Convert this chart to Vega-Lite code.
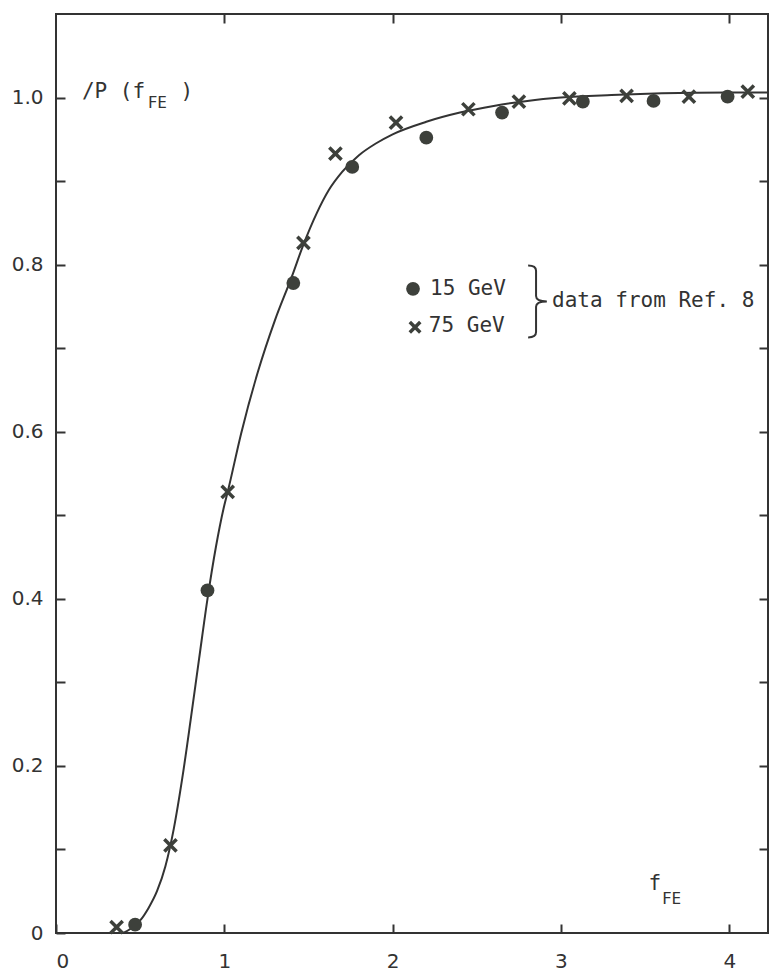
{
  "$schema": "https://vega.github.io/schema/vega-lite/v6.json",
  "width": 712,
  "height": 919,
  "autosize": {"type": "none"},
  "padding": {"left": 56, "top": 14, "right": 6, "bottom": 41},
  "background": "white",
  "config": {
    "view": {"stroke": "#333333", "strokeWidth": 2},
    "axis": {
      "grid": false,
      "domain": false,
      "tickColor": "#333333",
      "tickWidth": 2,
      "tickSize": -9,
      "labelFont": "DejaVu Sans",
      "labelFontSize": 20,
      "labelColor": "#333333",
      "title": null
    }
  },
  "datasets": {
    "curve": [
      {"f": 0.40, "p": 0.000}, {"f": 0.45, "p": 0.006}, {"f": 0.50, "p": 0.015},
      {"f": 0.55, "p": 0.030}, {"f": 0.60, "p": 0.050}, {"f": 0.65, "p": 0.080},
      {"f": 0.70, "p": 0.125}, {"f": 0.75, "p": 0.185}, {"f": 0.80, "p": 0.255},
      {"f": 0.85, "p": 0.328}, {"f": 0.90, "p": 0.400},
      {"f": 0.95, "p": 0.462}, {"f": 1.00, "p": 0.512}, {"f": 1.02, "p": 0.528},
      {"f": 1.10, "p": 0.598}, {"f": 1.20, "p": 0.672}, {"f": 1.30, "p": 0.733},
      {"f": 1.40, "p": 0.785}, {"f": 1.47, "p": 0.824}, {"f": 1.55, "p": 0.862},
      {"f": 1.62, "p": 0.889}, {"f": 1.70, "p": 0.911}, {"f": 1.80, "p": 0.931},
      {"f": 1.90, "p": 0.945}, {"f": 2.00, "p": 0.956}, {"f": 2.20, "p": 0.971},
      {"f": 2.40, "p": 0.982}, {"f": 2.60, "p": 0.990}, {"f": 2.80, "p": 0.996},
      {"f": 3.00, "p": 1.000}, {"f": 3.30, "p": 1.003}, {"f": 3.60, "p": 1.005},
      {"f": 4.00, "p": 1.006}, {"f": 4.23, "p": 1.006}
    ],
    "gev15": [
      {"f": 0.47, "p": 0.010}, {"f": 0.90, "p": 0.410}, {"f": 1.41, "p": 0.778},
      {"f": 1.76, "p": 0.917}, {"f": 2.20, "p": 0.952}, {"f": 2.65, "p": 0.982},
      {"f": 3.13, "p": 0.995}, {"f": 3.55, "p": 0.996}, {"f": 3.99, "p": 1.001}
    ],
    "gev75": [
      {"f": 0.36, "p": 0.007}, {"f": 0.68, "p": 0.105}, {"f": 1.02, "p": 0.528},
      {"f": 1.47, "p": 0.826}, {"f": 1.66, "p": 0.933}, {"f": 2.02, "p": 0.970},
      {"f": 2.45, "p": 0.986}, {"f": 2.75, "p": 0.995}, {"f": 3.05, "p": 0.999},
      {"f": 3.39, "p": 1.002}, {"f": 3.76, "p": 1.001}, {"f": 4.11, "p": 1.007}
    ],
    "legend15": [{"f": 2.121, "p": 0.771}],
    "legend75": [{"f": 2.133, "p": 0.725}],
    "brace": [{"f": 2.852, "p": 0.756}],
    "labels": [
      {"f": 0.154, "p": 1.007, "kind": "main", "t": "/P (f"},
      {"f": 0.545, "p": 0.993, "kind": "sub", "t": "FE"},
      {"f": 0.740, "p": 1.007, "kind": "main", "t": ")"},
      {"f": 3.520, "p": 0.059, "kind": "main", "t": "f"},
      {"f": 3.600, "p": 0.041, "kind": "sub", "t": "FE"},
      {"f": 2.222, "p": 0.771, "kind": "main", "t": "15 GeV"},
      {"f": 2.215, "p": 0.727, "kind": "main", "t": "75 GeV"},
      {"f": 2.947, "p": 0.756, "kind": "main", "t": "data from Ref. 8"}
    ]
  },
  "layer": [
    {
      "data": {"name": "curve"},
      "mark": {"type": "line", "interpolate": "monotone", "color": "#333333", "strokeWidth": 2},
      "encoding": {
        "x": {"field": "f", "type": "quantitative",
              "scale": {"domain": [0, 4.23], "nice": false, "zero": false},
              "axis": {"orient": "bottom", "values": [0, 1, 2, 3, 4], "labelPadding": 27}},
        "y": {"field": "p", "type": "quantitative",
              "scale": {"domain": [0, 1.1], "nice": false, "zero": false},
              "axis": {"orient": "left", "values": [0, 0.1, 0.2, 0.3, 0.4, 0.5, 0.6, 0.7, 0.8, 0.9, 1.0],
                       "labelPadding": 22,
                       "labelExpr": "round(datum.value*10) % 2 == 0 ? (datum.value == 0 ? '0' : format(datum.value, '.1f')) : ''"}}
      }
    },
    {
      "data": {"name": "gev15"},
      "mark": {"type": "point", "shape": "circle", "filled": true, "color": "#3d403b", "opacity": 1, "size": 190},
      "encoding": {
        "x": {"field": "f", "type": "quantitative",
              "axis": {"orient": "top", "values": [1, 2, 3, 4], "labels": false}},
        "y": {"field": "p", "type": "quantitative",
              "axis": {"orient": "right", "values": [0.1, 0.2, 0.3, 0.4, 0.5, 0.6, 0.7, 0.8, 0.9, 1.0], "labels": false}}
      }
    },
    {
      "data": {"name": "gev75"},
      "mark": {"type": "point", "shape": "M-1,-1L1,1M-1,1L1,-1", "filled": false, "color": "#3d403b", "opacity": 1, "strokeWidth": 3.5, "size": 150},
      "encoding": {
        "x": {"field": "f", "type": "quantitative", "axis": null},
        "y": {"field": "p", "type": "quantitative", "axis": null}
      }
    },
    {
      "data": {"name": "legend15"},
      "mark": {"type": "point", "shape": "circle", "filled": true, "color": "#3d403b", "opacity": 1, "size": 190},
      "encoding": {
        "x": {"field": "f", "type": "quantitative", "axis": null},
        "y": {"field": "p", "type": "quantitative", "axis": null}
      }
    },
    {
      "data": {"name": "legend75"},
      "mark": {"type": "point", "shape": "M-1,-1L1,1M-1,1L1,-1", "filled": false, "color": "#3d403b", "opacity": 1, "strokeWidth": 3.5, "size": 110},
      "encoding": {
        "x": {"field": "f", "type": "quantitative", "axis": null},
        "y": {"field": "p", "type": "quantitative", "axis": null}
      }
    },
    {
      "data": {"name": "brace"},
      "mark": {"type": "point", "shape": "M-0.22,-1 Q0,-1 0,-0.85 L0,-0.15 Q0,0 0.3,0 Q0,0 0,0.15 L0,0.85 Q0,1 -0.22,1", "filled": false, "color": "#333333", "opacity": 1, "strokeWidth": 2, "size": 5184},
      "encoding": {
        "x": {"field": "f", "type": "quantitative", "axis": null},
        "y": {"field": "p", "type": "quantitative", "axis": null}
      }
    },
    {
      "data": {"name": "labels"},
      "transform": [{"filter": "datum.kind == 'main'"}],
      "mark": {"type": "text", "font": "DejaVu Sans Mono", "fontSize": 21, "color": "#333333", "align": "left", "baseline": "middle"},
      "encoding": {
        "x": {"field": "f", "type": "quantitative", "axis": null},
        "y": {"field": "p", "type": "quantitative", "axis": null},
        "text": {"field": "t"}
      }
    },
    {
      "data": {"name": "labels"},
      "transform": [{"filter": "datum.kind == 'sub'"}],
      "mark": {"type": "text", "font": "DejaVu Sans Mono", "fontSize": 16, "color": "#333333", "align": "left", "baseline": "middle"},
      "encoding": {
        "x": {"field": "f", "type": "quantitative", "axis": null},
        "y": {"field": "p", "type": "quantitative", "axis": null},
        "text": {"field": "t"}
      }
    }
  ],
  "resolve": {"axis": {"x": "independent", "y": "independent"}}
}
